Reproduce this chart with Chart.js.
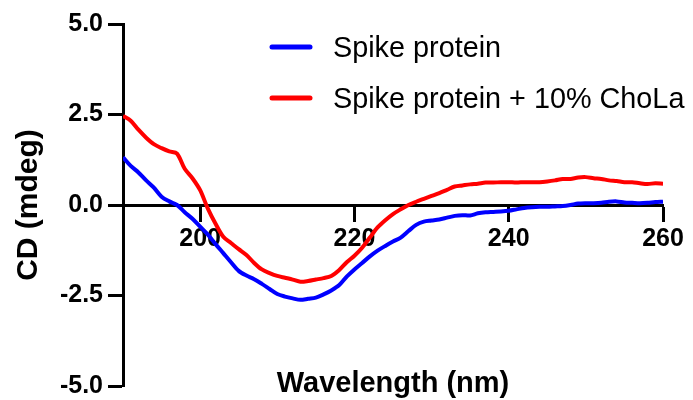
<!DOCTYPE html>
<html>
<head>
<meta charset="utf-8">
<script src="https://cdn.jsdelivr.net/npm/chart.js@4/dist/chart.umd.min.js"></script>
<style>
  html, body { margin: 0; padding: 0; background: #fff; }
  #wrap { position: relative; width: 693px; height: 400px; }
  canvas { display: block; }
</style>
</head>
<body>
<div id="wrap"><canvas id="c" width="693" height="400"></canvas></div>
<script>
// ---- Data ----
const wavelengths = [190,191,192,193,194,195,196,197,198,199,200,201,202,203,204,205,206,207,208,209,210,211,212,213,214,215,216,217,218,219,220,221,222,223,224,225,226,227,228,229,230,231,232,233,234,235,236,237,238,239,240,241,242,243,244,245,246,247,248,249,250,251,252,253,254,255,256,257,258,259,260];

const spikeProtein = [1.32,1.08,0.90,0.68,0.48,0.23,0.10,0.00,-0.20,-0.38,-0.60,-0.82,-1.08,-1.33,-1.58,-1.82,-1.95,-2.05,-2.18,-2.32,-2.46,-2.53,-2.58,-2.62,-2.59,-2.56,-2.47,-2.36,-2.22,-1.98,-1.78,-1.60,-1.42,-1.26,-1.13,-1.01,-0.90,-0.72,-0.55,-0.46,-0.43,-0.40,-0.35,-0.30,-0.28,-0.29,-0.23,-0.20,-0.19,-0.18,-0.16,-0.12,-0.08,-0.06,-0.05,-0.05,-0.04,-0.03,0.00,0.04,0.05,0.05,0.06,0.09,0.10,0.07,0.06,0.05,0.06,0.08,0.09];

const spikeCholA = [2.46,2.33,2.08,1.86,1.68,1.57,1.48,1.42,1.00,0.74,0.41,-0.10,-0.52,-0.88,-1.05,-1.22,-1.38,-1.60,-1.78,-1.88,-1.96,-2.01,-2.06,-2.12,-2.10,-2.06,-2.02,-1.96,-1.80,-1.58,-1.40,-1.18,-0.90,-0.62,-0.42,-0.25,-0.12,0.00,0.09,0.17,0.25,0.33,0.42,0.51,0.54,0.57,0.59,0.62,0.62,0.63,0.63,0.62,0.63,0.63,0.63,0.65,0.68,0.72,0.72,0.76,0.77,0.74,0.72,0.68,0.66,0.63,0.63,0.60,0.58,0.60,0.59];

const seriesLabels = ['Spike protein', 'Spike protein + 10% ChoLa'];
const seriesColors = ['#0000FF', '#FF0000'];
const xTickValues = [200, 220, 240, 260];
const yTickValues = [-5, -2.5, 0, 2.5, 5];
const xTitle = 'Wavelength (nm)';
const yTitle = 'CD (mdeg)';

// ---- Chart ----
const FONT = '"Liberation Sans", Arial, Helvetica, sans-serif';
Chart.defaults.font.family = FONT;
Chart.defaults.color = '#000';

const overlayPlugin = {
  id: 'overlay',
  afterDraw(chart) {
    const { ctx, chartArea } = chart;
    ctx.save();
    ctx.fillStyle = '#000';
    ctx.font = 'bold 29px ' + FONT;
    ctx.textAlign = 'center';
    ctx.textBaseline = 'alphabetic';
    ctx.fillText(xTitle, (chartArea.left + chartArea.right) / 2, 392);

    chart.data.datasets.forEach((ds, i) => {
      const y = 47 + i * 51;
      ctx.strokeStyle = ds.borderColor;
      ctx.lineWidth = 5;
      ctx.lineCap = 'round';
      ctx.beginPath();
      ctx.moveTo(272, y);
      ctx.lineTo(310, y);
      ctx.stroke();
      ctx.fillStyle = '#000';
      ctx.font = '28.8px ' + FONT;
      ctx.textAlign = 'left';
      ctx.fillText(ds.label, 333, y + 10);
    });
    ctx.restore();
  }
};

const toPoints = (vals) => wavelengths.map((w, i) => ({ x: w, y: vals[i] }));

new Chart(document.getElementById('c'), {
  type: 'line',
  data: {
    datasets: [
      { label: seriesLabels[0], data: toPoints(spikeProtein), borderColor: seriesColors[0], backgroundColor: seriesColors[0], borderWidth: 4, pointRadius: 0, tension: 0.3, fill: false },
      { label: seriesLabels[1], data: toPoints(spikeCholA), borderColor: seriesColors[1], backgroundColor: seriesColors[1], borderWidth: 4, pointRadius: 0, tension: 0.3, fill: false }
    ]
  },
  options: {
    responsive: false,
    animation: false,
    devicePixelRatio: 1,
    layout: { padding: { left: 0, top: 24, right: 30, bottom: 14 } },
    plugins: { legend: { display: false }, tooltip: { enabled: false } },
    scales: {
      x: {
        type: 'linear',
        min: 190, max: 260,
        position: { y: 0 },
        afterBuildTicks: (s) => { s.ticks = xTickValues.map(v => ({ value: v })); },
        ticks: { font: { family: FONT, size: 25, weight: 'bold', lineHeight: 1.2 }, color: '#000', padding: 4, maxRotation: 0, autoSkip: false },
        grid: { drawOnChartArea: false, drawTicks: true, tickLength: 15, tickWidth: 3, tickColor: '#000' },
        border: { display: true, color: '#000', width: 3 }
      },
      y: {
        min: -5, max: 5,
        afterBuildTicks: (s) => { s.ticks = yTickValues.map(v => ({ value: v })); },
        ticks: { font: { family: FONT, size: 25, weight: 'bold', lineHeight: 0.7 }, color: '#000', padding: 5, callback: (v) => Number(v).toFixed(1) },
        grid: { drawOnChartArea: false, drawTicks: true, tickLength: 15, tickWidth: 3, tickColor: '#000' },
        border: { display: true, color: '#000', width: 3 },
        title: { display: true, text: yTitle, color: '#000', font: { family: FONT, size: 30, weight: 'bold' }, padding: { top: 11, bottom: 0 } },
        afterFit: (s) => { s.width = 123; }
      }
    }
  },
  plugins: [overlayPlugin]
});
</script>
</body>
</html>
